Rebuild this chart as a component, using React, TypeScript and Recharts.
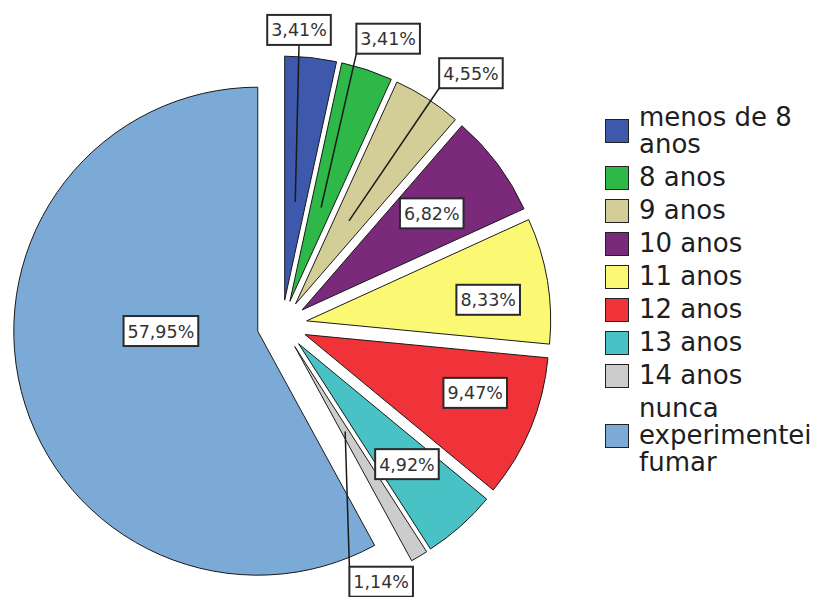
import { PieChart, Pie, Cell, Legend, Sector } from 'recharts';

// Idade em que experimentou fumar (%)
const AGE_GROUPS = [
  'menos de 8 anos',
  '8 anos',
  '9 anos',
  '10 anos',
  '11 anos',
  '12 anos',
  '13 anos',
  '14 anos',
  'nunca experimentei fumar',
];
const PERCENTS = [3.41, 3.41, 4.55, 6.82, 8.33, 9.47, 4.92, 1.14, 57.95];
const SLICE_COLORS = [
  '#3e58ac',
  '#2eb848',
  '#d3ce97',
  '#7b2a7b',
  '#fbf873',
  '#ef3338',
  '#48c2c5',
  '#cccccc',
  '#7aaad5',
];

// label placement, measured from each slice's pulled-out tip:
// distance as a share of the radius, and a clockwise turn (deg) away from the slice's mid angle
const LABEL_DIST = [1.109, 1.149, 1.188, 0.663, 0.749, 0.737, 0.664, 1.027, 0.397];
const LABEL_TURN = [-3.1, 2.1, 4.5, 0.1, 2.9, -3.6, -0.4, 10.5, 14.4];
const HAS_LEADER = [true, true, true, false, false, false, false, true, false];

const EXPLODE = 25;
const FONT = '"DejaVu Sans", Verdana, sans-serif';
const LABEL_SIZE = 17.5;

const chartData = AGE_GROUPS.map((name, i) => ({ name, value: PERCENTS[i] }));

const polar = (cx: number, cy: number, r: number, angle: number) => {
  const rad = (angle * Math.PI) / 180;
  return { x: cx + r * Math.cos(rad), y: cy - r * Math.sin(rad) };
};

// each slice is pushed out along its bisector
const renderSlice = (props: any) => {
  const { cx, cy, midAngle } = props;
  const p = polar(cx, cy, EXPLODE, midAngle);
  return <Sector {...props} cx={p.x} cy={p.y} />;
};

const renderLabel = (props: any) => {
  const { cx, cy, midAngle, outerRadius, index, value } = props;
  const tip = polar(cx, cy, EXPLODE, midAngle);
  const c = polar(tip.x, tip.y, outerRadius * LABEL_DIST[index], midAngle - LABEL_TURN[index]);
  const text = value.toFixed(2).replace('.', ',') + '%';
  const digits = text.length - 2;
  const w = (digits * 0.636 + 0.318 + 0.95) * LABEL_SIZE + 8;
  const h = 30;
  const x0 = c.x - w / 2;
  const y0 = c.y - h / 2;

  let leader = null;
  if (HAS_LEADER[index]) {
    const inner = polar(tip.x, tip.y, outerRadius * 0.405, midAngle);
    // attach to the nearest corner / edge middle of the box
    const spots = [];
    for (const fx of [0, 0.5, 1]) {
      for (const fy of [0, 0.5, 1]) {
        if (fx === 0.5 && fy === 0.5) continue;
        spots.push({ x: x0 + fx * w, y: y0 + fy * h });
      }
    }
    let best = spots[0];
    let bestD = Infinity;
    spots.forEach((s) => {
      const d = Math.hypot(s.x - inner.x, s.y - inner.y);
      if (d < bestD) {
        bestD = d;
        best = s;
      }
    });
    leader = (
      <line x1={inner.x} y1={inner.y} x2={best.x} y2={best.y} stroke="#1a1a1a" strokeWidth={1.5} />
    );
  }

  return (
    <g key={`label-${index}`}>
      {leader}
      <rect x={x0} y={y0} width={w} height={h} fill="#ffffff" stroke="#2a2a2a" strokeWidth={2} />
      <text
        x={c.x}
        y={c.y + 6.5}
        textAnchor="middle"
        fontFamily={FONT}
        fontSize={LABEL_SIZE}
        fill="#333333"
      >
        {text}
      </text>
    </g>
  );
};

const renderLegend = () => (
  <div style={{ fontFamily: FONT, fontSize: 26, lineHeight: '27px', color: '#1e1e1e' }}>
    {AGE_GROUPS.map((name, i) => (
      <div key={name} style={{ display: 'flex', alignItems: 'center', marginBottom: 6 }}>
        <div
          style={{
            width: 22,
            height: 22,
            background: SLICE_COLORS[i],
            border: '1.5px solid #222',
            flexShrink: 0,
            marginRight: 10,
          }}
        />
        <div style={{ width: 185 }}>{name}</div>
      </div>
    ))}
  </div>
);

export default function App() {
  return (
    <div style={{ position: 'absolute', left: 0, top: 0, background: '#fff' }}>
      <PieChart width={825} height={597} margin={{ top: 0, right: 0, bottom: 0, left: 0 }}>
        <Pie
          data={chartData}
          dataKey="value"
          nameKey="name"
          cx={282}
          cy={325}
          outerRadius={244}
          startAngle={90}
          endAngle={-270}
          stroke="#1a1a1a"
          strokeWidth={1}
          shape={renderSlice}
          label={renderLabel}
          labelLine={false}
          isAnimationActive={false}
        >
          {chartData.map((entry, i) => (
            <Cell key={`cell-${entry.name}`} fill={SLICE_COLORS[i]} />
          ))}
        </Pie>
        <Legend
          layout="vertical"
          align="right"
          verticalAlign="top"
          content={renderLegend}
          wrapperStyle={{ left: 605, top: 104, right: 'auto', width: 220 }}
        />
      </PieChart>
    </div>
  );
}
